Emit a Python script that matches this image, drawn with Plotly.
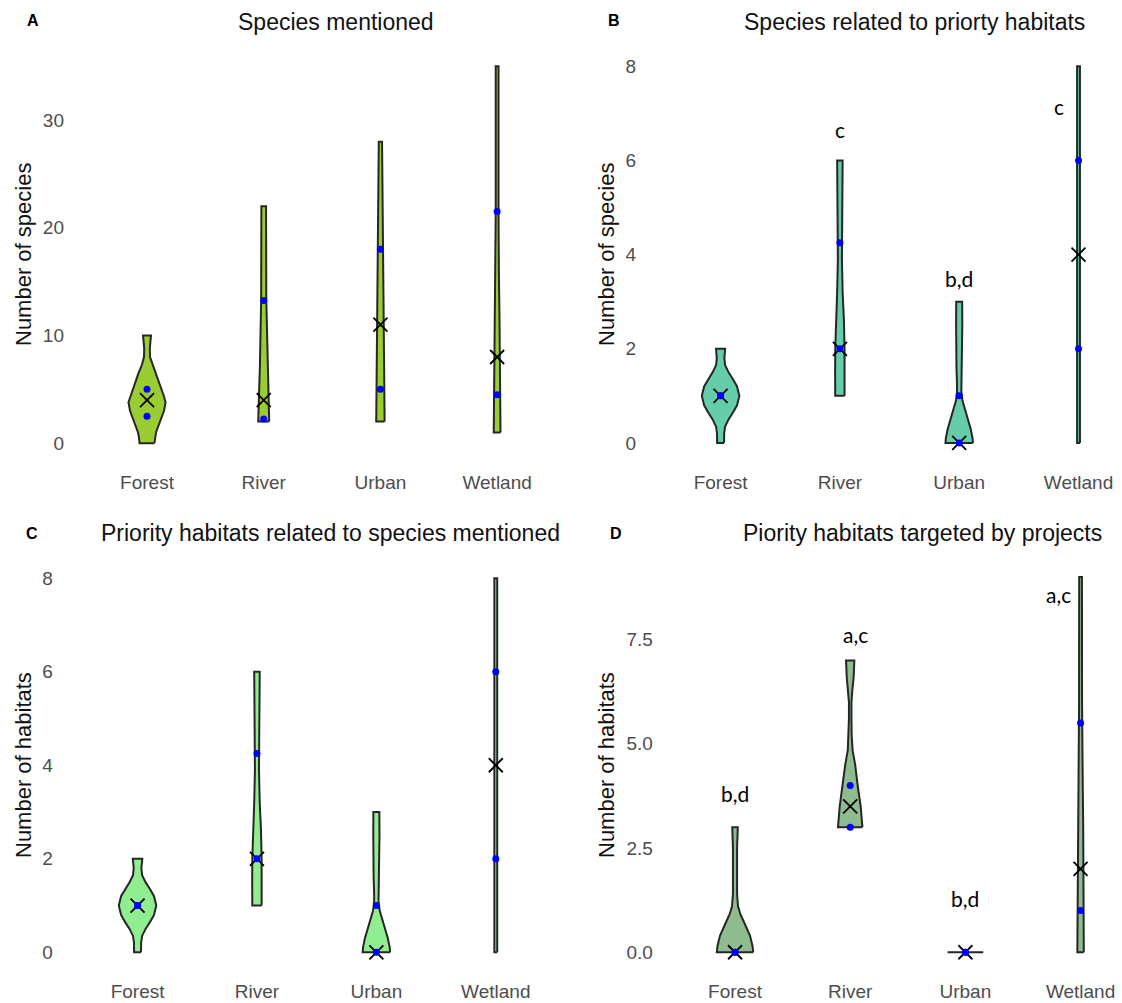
import plotly.graph_objects as go

categories = ["Forest", "River", "Urban", "Wetland"]

# ---------------- Panel A: Species mentioned ----------------
a_forest_y = [0, 0.5, 1.0, 2.0, 3.0, 3.8, 4.5, 5.5, 6.5, 7.3, 8.0, 8.8, 9.5, 10]
a_forest_w = [.064, .069, .077, .111, .146, .159, .141, .107, .073, .043, .026, .024, .030, .034]
a_river_y = [2, 3, 4.6, 7, 10.2, 13.3, 22]
a_river_w = [.047, .045, .040, .033, .026, .022, .020]
a_urban_y = [2, 6, 11, 18, 23, 28]
a_urban_w = [.036, .033, .029, .025, .018, .014]
a_wetland_y = [1, 5, 8, 12, 16, 21.5, 35]
a_wetland_w = [.029, .027, .024, .020, .015, .012, .012]
a_median = [4, 4, 11, 8]
a_q1 = [2.5, 2.25, 5, 4.5]
a_q3 = [5, 13.25, 18, 21.5]

# ---------------- Panel B: Species related to priority habitats ----------------
b_forest_y = [0, 0.2, 0.35, 0.5, 0.65, 0.8, 1.0, 1.2, 1.35, 1.5, 1.65, 1.8, 2.0]
b_forest_w = [.029, .030, .038, .067, .105, .138, .157, .138, .105, .067, .038, .032, .038]
b_river_y = [1, 1.5, 2, 2.6, 3.2, 3.9, 4.5, 5.0, 5.5, 6.0]
b_river_w = [.039, .040, .039, .034, .023, .017, .017, .019, .022, .023]
b_urban_y = [0, 0.1, 0.3, 0.5, 0.7, 0.9, 1.1, 1.3, 1.6, 2.0, 2.5, 3.0]
b_urban_w = [.115, .112, .096, .075, .049, .027, .018, .019, .023, .027, .026, .025]
b_wetland_y = [0, 8]
b_wetland_w = [.012, .012]
b_median = [1, 2, 0, 4]
b_q1 = [1, 2, 0, 2]
b_q3 = [1, 4.25, 1, 6]
b_letters = ["c", "b,d", "c"]
b_letters_x = [2, 3, 3.836]
b_letters_y = [6.65, 3.5, 7.14]

# ---------------- Panel C: Priority habitats related to species mentioned ----------------
c_forest_y = [0, 0.2, 0.35, 0.5, 0.65, 0.8, 1.0, 1.2, 1.35, 1.5, 1.65, 1.8, 2.0]
c_forest_w = [.029, .030, .038, .067, .105, .138, .157, .138, .105, .067, .038, .032, .040]
c_river_y = [1, 1.5, 2, 2.6, 3.2, 3.9, 4.5, 5.0, 5.5, 6.0]
c_river_w = [.039, .040, .039, .034, .023, .017, .017, .019, .022, .023]
c_urban_y = [0, 0.1, 0.3, 0.5, 0.7, 0.9, 1.1, 1.3, 1.6, 2.0, 2.5, 3.0]
c_urban_w = [.115, .112, .096, .075, .049, .027, .018, .019, .023, .027, .026, .025]
c_wetland_y = [0, 8]
c_wetland_w = [.012, .012]
c_median = [1, 2, 0, 4]
c_q1 = [1, 2, 0, 2]
c_q3 = [1, 4.25, 1, 6]

# ---------------- Panel D: Piority habitats targeted by projects ----------------
d_forest_y = [0, 0.15, 0.4, 0.6, 0.75, 0.9, 1.1, 1.4, 2.0, 2.5, 3.0]
d_forest_w = [.158, .152, .130, .100, .074, .048, .026, .018, .016, .018, .024]
d_river_y = [3.0, 3.5, 4.0, 4.5, 4.85, 5.2, 5.6, 6.0, 6.3, 6.6, 7.0]
d_river_w = [.106, .091, .065, .043, .021, .013, .011, .011, .019, .030, .036]
d_urban_y = [0, 0]
d_urban_w = [.155, .155]
d_wetland_y = [0, 1, 2, 3, 4, 5, 6, 9]
d_wetland_w = [.028, .028, .026, .023, .019, .015, .013, .012]
d_median = [0, 3.5, 0, 2]
d_q1 = [0, 3, 0, 1]
d_q3 = [0, 4, 0, 5.5]
d_letters = ["b,d", "a,c", "b,d", "a,c"]
d_letters_x = [1, 2.05, 3, 3.81]
d_letters_y = [3.8, 7.62, 1.29, 8.59]

# ---------------- figure ----------------
W, H = 1122, 1003
OUTLINE = "#262626"
TICK_COL = "#4D4D4D"
fig = go.Figure()


def add_panel(ax, profiles, medians, q1, q3, fill):
    xa, ya = ("x", "y") if ax == 1 else (f"x{ax}", f"y{ax}")
    for i, (ys, ws) in enumerate(profiles):
        c = i + 1
        xs = [c + w for w in ws] + [c - w for w in ws[::-1]] + [c + ws[0]]
        yy = list(ys) + list(ys[::-1]) + [ys[0]]
        fig.add_trace(go.Scatter(x=xs, y=yy, mode="lines", fill="toself",
                                 fillcolor=fill, line=dict(color=OUTLINE, width=2),
                                 hoverinfo="skip", showlegend=False, xaxis=xa, yaxis=ya))
    pos = [1, 2, 3, 4]
    fig.add_trace(go.Scatter(x=pos, y=medians, mode="markers",
                             marker=dict(symbol="x-thin", size=14,
                                         line=dict(color="black", width=1.8)),
                             showlegend=False, xaxis=xa, yaxis=ya))
    fig.add_trace(go.Scatter(x=pos + pos, y=q1 + q3, mode="markers",
                             marker=dict(color="#0000FF", size=7),
                             showlegend=False, xaxis=xa, yaxis=ya))


add_panel(1, [(a_forest_y, a_forest_w), (a_river_y, a_river_w),
              (a_urban_y, a_urban_w), (a_wetland_y, a_wetland_w)],
          a_median, a_q1, a_q3, "#9ACD32")
add_panel(2, [(b_forest_y, b_forest_w), (b_river_y, b_river_w),
              (b_urban_y, b_urban_w), (b_wetland_y, b_wetland_w)],
          b_median, b_q1, b_q3, "#66CDAA")
add_panel(3, [(c_forest_y, c_forest_w), (c_river_y, c_river_w),
              (c_urban_y, c_urban_w), (c_wetland_y, c_wetland_w)],
          c_median, c_q1, c_q3, "#90EE90")
add_panel(4, [(d_forest_y, d_forest_w), (d_river_y, d_river_w),
              (d_urban_y, d_urban_w), (d_wetland_y, d_wetland_w)],
          d_median, d_q1, d_q3, "#8FBC8F")


def xdom(l, r):
    return [l / W, r / W]


def ydom(top, bottom):
    return [1 - bottom / H, 1 - top / H]


tickfont = dict(family="Liberation Sans, Arial, sans-serif", size=19, color=TICK_COL)
xbase = dict(tickmode="array", tickvals=[1, 2, 3, 4], ticktext=categories,
             showgrid=False, zeroline=False, showline=False, ticks="",
             tickfont=tickfont, ticklabelstandoff=7, fixedrange=True)
ybase = dict(showgrid=False, zeroline=False, showline=False, ticks="",
             tickfont=tickfont, ticklabelstandoff=12, fixedrange=True)

layout_axes = {
    "xaxis": dict(xbase, domain=xdom(77, 555), range=[0.4, 4.496], anchor="y"),
    "yaxis": dict(ybase, domain=ydom(47.4, 462), range=[-1.75, 36.75], anchor="x",
                  tickvals=[0, 10, 20, 30]),
    "xaxis2": dict(xbase, domain=xdom(649, 1118), range=[0.4, 4.331], anchor="y2"),
    "yaxis2": dict(ybase, domain=ydom(47.4, 461.8), range=[-0.4, 8.4], anchor="x2",
                   tickvals=[0, 2, 4, 6, 8]),
    "xaxis3": dict(xbase, domain=xdom(65.9, 550), range=[0.4, 4.454], anchor="y3"),
    "yaxis3": dict(ybase, domain=ydom(559.5, 971), range=[-0.4, 8.4], anchor="x3",
                   tickvals=[0, 2, 4, 6, 8]),
    "xaxis4": dict(xbase, domain=xdom(665.9, 1118), range=[0.4, 4.325], anchor="y4"),
    "yaxis4": dict(ybase, domain=ydom(558.3, 971), range=[-0.45, 9.45], anchor="x4",
                   tickvals=[0, 2.5, 5, 7.5], ticktext=["0.0", "2.5", "5.0", "7.5"]),
}

annotations = []
title_font = dict(family="Liberation Sans, Arial, sans-serif", size=23, color="#111111")
axis_title_font = dict(family="Liberation Sans, Arial, sans-serif", size=22, color="#111111")
letter_font = dict(family="Liberation Sans, Arial, sans-serif", size=16, color="black")
sig_font = dict(family="Lato, Open Sans, sans-serif", size=21, color="black")

for txt, cx, cy in [("Species mentioned", 335.7, 22),
                    ("Species related to priorty habitats", 914, 22),
                    ("Priority habitats related to species mentioned", 330, 533),
                    ("Piority habitats targeted by projects", 922, 533)]:
    annotations.append(dict(text=txt, x=cx / W, y=1 - cy / H, xref="paper", yref="paper",
                            showarrow=False, font=title_font, xanchor="center", yanchor="middle"))
for txt, cx, cy in [("A", 33, 20), ("B", 614, 20), ("C", 32, 533), ("D", 615.5, 533)]:
    annotations.append(dict(text=f"<b>{txt}</b>", x=cx / W, y=1 - cy / H, xref="paper",
                            yref="paper", showarrow=False, font=letter_font,
                            xanchor="center", yanchor="middle"))
for txt, cx, cy in [("Number of species", 23, 255), ("Number of species", 606, 255),
                    ("Number of habitats", 23, 765), ("Number of habitats", 606, 765)]:
    annotations.append(dict(text=txt, x=cx / W, y=1 - cy / H, xref="paper", yref="paper",
                            showarrow=False, font=axis_title_font, textangle=-90,
                            xanchor="center", yanchor="middle"))
for txt, x, y in zip(b_letters, b_letters_x, b_letters_y):
    annotations.append(dict(text=txt, x=x, y=y, xref="x2", yref="y2", showarrow=False,
                            font=sig_font, xanchor="center", yanchor="middle"))
for txt, x, y in zip(d_letters, d_letters_x, d_letters_y):
    annotations.append(dict(text=txt, x=x, y=y, xref="x4", yref="y4", showarrow=False,
                            font=sig_font, xanchor="center", yanchor="middle"))

fig.update_layout(
    width=W, height=H, template="none",
    margin=dict(l=0, r=0, t=0, b=0, pad=0),
    paper_bgcolor="white", plot_bgcolor="white",
    showlegend=False, annotations=annotations,
    **layout_axes,
)

fig.write_html(
    "out.html",
    config={"displayModeBar": False},
    post_script="document.body.style.margin='0';document.body.style.overflow='hidden';",
)
